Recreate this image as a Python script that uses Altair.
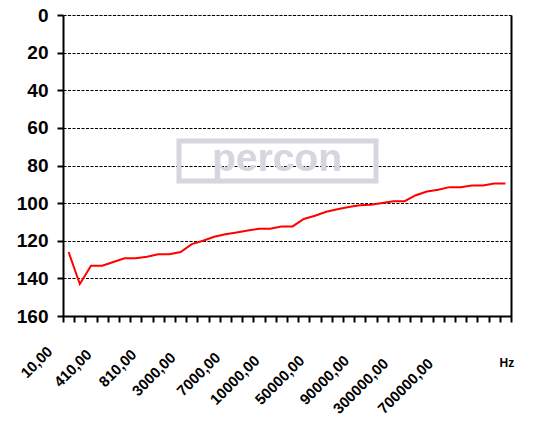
import altair as alt
import pandas as pd

# Category labels (frequency, Hz) and measured values
categories = ["10,00", "110,00", "210,00", "310,00", "410,00", "510,00", "610,00", "710,00",
              "810,00", "910,00", "1000,00", "2000,00", "3000,00", "4000,00", "5000,00", "6000,00",
              "7000,00", "8000,00", "9000,00", "9500,00", "10000,00", "20000,00", "30000,00", "40000,00",
              "50000,00", "60000,00", "70000,00", "80000,00", "90000,00", "100000,00", "200000,00",
              "250000,00", "300000,00", "400000,00", "500000,00", "600000,00", "700000,00",
              "800000,00", "900000,00", "1000000,00"]
values = [126, 143, 133.3, 133.3, 131.3, 129.3, 129.3, 128.5, 127.2, 127.2,
          126, 121.8, 120, 117.9, 116.6, 115.6, 114.5, 113.6, 113.6, 112.4,
          112.4, 108.4, 106.7, 104.6, 103.3, 102.1, 101.1, 100.8, 99.9, 99,
          99, 95.8, 93.8, 92.9, 91.5, 91.5, 90.6, 90.6, 89.6, 89.6]
shown_labels = categories[::4]
y_ticks = [0, 20, 40, 60, 80, 100, 120, 140, 160]

df = pd.DataFrame({"f": categories, "v": values})
one = pd.DataFrame({"a": [0]})

label_list = "[" + ",".join("'" + s + "'" for s in shown_labels) + "]"

x_enc = alt.X(
    "f:N", sort=categories, bandPosition=0.5,
    scale=alt.Scale(type="band", paddingInner=0, paddingOuter=0),
    axis=alt.Axis(
        title="Hz", titleFont="Liberation Sans", titleFontSize=12, titleFontWeight="bold",
        titleX=436, titleY=46, titleAlign="left", titleBaseline="middle", titleAngle=0,
        titleColor="black",
        tickBand="extent", tickSize=6, tickWidth=2, tickColor="black",
        domainColor="black", domainWidth=2,
        labelExpr="indexof(" + label_list + ", datum.label) >= 0 ? datum.label : ''",
        labelAngle=-45, labelAlign="right", labelBaseline="middle",
        labelFont="Liberation Sans", labelFontSize=15, labelFontWeight="bold", labelColor="black",
        labelOverlap=False, labelFlush=False, labelBound=False,
        labelOffset={"expr": "9 - 5.63*length(datum.label)"},
        labelPadding={"expr": "11.5 + 3.0*length(datum.label)"},
        grid=False,
    ),
)

line = alt.Chart(df).mark_line(color="#ff0000", strokeWidth=2).encode(
    x=x_enc,
    y=alt.Y("v:Q", scale=alt.Scale(domain=[0, 160], reverse=True, nice=False),
            axis=alt.Axis(values=y_ticks, title=None, grid=True, gridColor="black",
                          gridDash=[3, 1.5], gridWidth=1, tickSize=6, tickWidth=2,
                          tickColor="black", domainColor="black", domainWidth=2,
                          labelFont="Liberation Sans", labelFontSize=19, labelFontWeight="bold",
                          labelColor="black", labelPadding=9)),
)

border = alt.Chart(df).mark_line(opacity=0).encode(
    x=x_enc,
    y=alt.Y("v:Q", axis=alt.Axis(orient="right", labels=False, ticks=False, grid=False,
                                 domainColor="black", domainWidth=2, title=None)),
)

wm_rect = alt.Chart(one).mark_rect(fill=None, stroke="#d6d6de", strokeWidth=5).encode(
    x=alt.value(116), x2=alt.value(313), y=alt.value(126), y2=alt.value(166)
)
wm_text = alt.Chart(one).mark_text(font="Liberation Sans", fontSize=39, fontWeight="bold",
                                   color="#d6d6de", baseline="middle", align="center").encode(
    x=alt.value(214), y=alt.value(144), text=alt.value("percon")
)

chart = alt.layer(wm_rect, wm_text, line, border).resolve_scale(y="independent").properties(
    width=448, height=301,
    padding={"left": 55, "top": 7, "right": 21, "bottom": 99},
    autosize="none",
).configure_view(stroke=None).configure(background="white")

chart.save("out.html", embed_options={"renderer": "svg", "actions": False})
